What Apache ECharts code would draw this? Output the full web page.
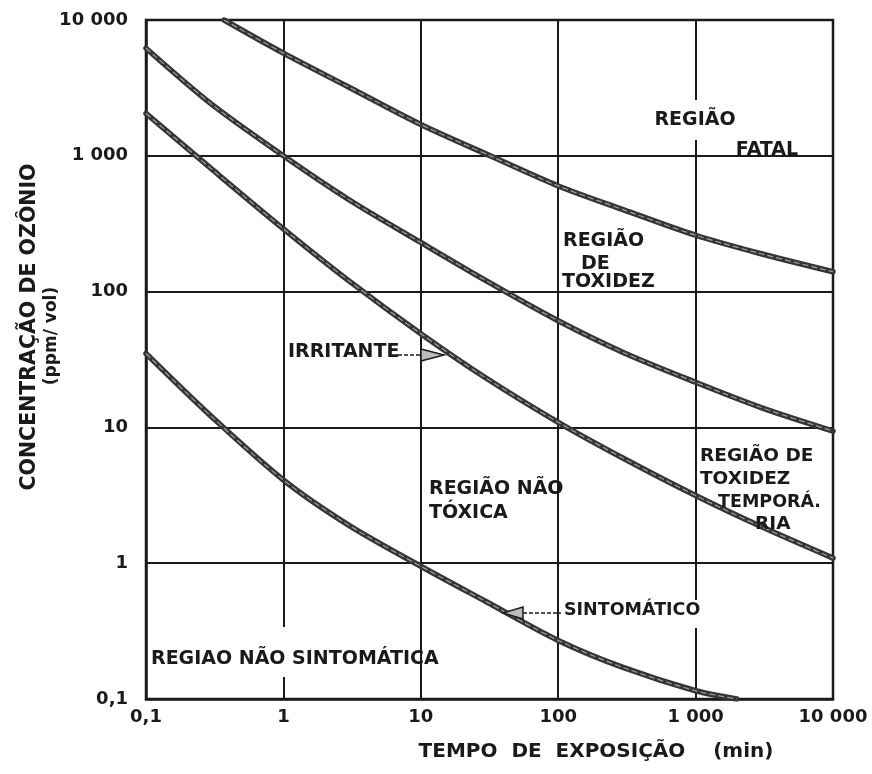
<!DOCTYPE html>
<html>
<head>
<meta charset="utf-8">
<script src="https://cdn.jsdelivr.net/npm/echarts@6/dist/echarts.min.js"></script>
<style>
html,body{margin:0;padding:0;background:#fff;}
#chart{width:872px;height:774px;}
</style>
</head>
<body>
<div id="chart"></div>
<script>
// ---- data ----
const xTickValues = [0.1, 1, 10, 100, 1000, 10000];
const xTickLabels = ['0,1', '1', '10', '100', '1 000', '10 000'];
const yTickValues = [0.1, 1, 10, 100, 1000, 10000];
const yTickLabels = ['0,1', '1', '10', '100', '1 000', '10 000'];

const xAxisTitle = 'TEMPO  DE  EXPOSIÇÃO    (min)';
const yAxisTitle = 'CONCENTRAÇÃO DE OZÔNIO';
const yAxisUnit = '(ppm/ vol)';

// limit curves: [time (min), concentration (ppm/vol)]
const fatalCurve = [[0.37, 10000], [1, 5700], [3, 3200], [10, 1700], [32, 1000], [100, 600], [300, 400], [1000, 260], [3000, 190], [10000, 140]];
const toxidezCurve = [[0.1, 6200], [0.3, 2400], [1, 1000], [3, 475], [10, 230], [30, 120], [100, 61], [300, 35.5], [1000, 21.5], [3000, 14], [10000, 9.4]];
const irritanteCurve = [[0.1, 2050], [0.3, 800], [1, 290], [3, 120], [10, 49], [30, 23], [100, 10.9], [300, 5.9], [1000, 3.15], [3000, 1.86], [10000, 1.09]];
const sintomaticoCurve = [[0.1, 35], [0.3, 12], [1, 4.1], [3, 1.9], [10, 0.95], [30, 0.52], [100, 0.27], [300, 0.17], [1000, 0.115], [2000, 0.1]];

const curves = [fatalCurve, toxidezCurve, irritanteCurve, sintomaticoCurve];

// ---- chart ----
const FONT = 'DejaVu Sans';
const INK = '#1a1a1a';

function tickFmt(values, labels) {
  return function (v) {
    for (let i = 0; i < values.length; i++) {
      if (Math.abs(Math.log10(v) - Math.log10(values[i])) < 1e-6) return labels[i];
    }
    return '';
  };
}

const series = [];
curves.forEach(function (c) {
  series.push({
    type: 'line', data: c, smooth: 0.3, symbol: 'none', silent: true, z: 5,
    lineStyle: { color: '#353535', width: 5.5, cap: 'round' }
  });
  series.push({
    type: 'line', data: c, smooth: 0.3, symbol: 'none', silent: true, z: 6,
    lineStyle: { color: '#a0a0a0', width: 1.2, type: [6, 3] }
  });
});

const chart = echarts.init(document.getElementById('chart'), null, { renderer: 'canvas' });

function txt(text, x, y, opts) {
  opts = opts || {};
  return {
    type: 'text', x: x, y: y, z: 50, silent: true,
    rotation: opts.rotation || 0,
    style: {
      text: text, fill: INK, fontFamily: FONT, fontWeight: 'bold', fontSize: opts.size || 19,
      align: opts.align || 'left', verticalAlign: 'middle'
    }
  };
}
function gap(x, y1, y2) {
  return { type: 'rect', z: 10, silent: true, shape: { x: x - 3, y: y1, width: 6, height: y2 - y1 }, style: { fill: '#fff' } };
}

const graphics = [
  // gaps in the grid behind some annotations
  gap(284, 627, 677),
  gap(696, 100, 140),
  gap(696, 600, 628),
  // axis titles
  txt(yAxisTitle, 30, 327, { align: 'center', rotation: Math.PI / 2, size: 20.5 }),
  txt(yAxisUnit, 52, 336, { align: 'center', rotation: Math.PI / 2, size: 17 }),
  txt(xAxisTitle, 596, 752, { align: 'center', size: 20 }),
  // region annotations
  txt('REGIÃO', 695, 120, { align: 'center' }),
  txt('FATAL', 767, 150, { align: 'center' }),
  txt('REGIÃO', 563, 241),
  txt('DE', 581, 264),
  txt('TOXIDEZ', 562, 282),
  txt('IRRITANTE', 288, 352),
  txt('REGIÃO NÃO', 429, 489),
  txt('TÓXICA', 429, 513),
  txt('REGIÃO DE', 700, 456, { size: 18.5 }),
  txt('TOXIDEZ', 700, 479, { size: 18.5 }),
  txt('TEMPORÁ.', 718, 502, { size: 17.5 }),
  txt('RIA', 755, 524, { size: 18.5 }),
  txt('SINTOMÁTICO', 564, 610, { size: 17.5 }),
  txt('REGIAO NÃO SINTOMÁTICA', 151, 659),
  // arrows
  { type: 'line', z: 40, silent: true, shape: { x1: 398, y1: 355, x2: 421, y2: 355 }, style: { stroke: INK, lineWidth: 1.5, lineDash: [4, 2] } },
  { type: 'polygon', z: 40, silent: true, shape: { points: [[421, 349], [421, 361], [444, 355]] }, style: { fill: '#bbb', stroke: INK, lineWidth: 1.5 } },
  { type: 'line', z: 40, silent: true, shape: { x1: 523, y1: 613, x2: 561, y2: 613 }, style: { stroke: INK, lineWidth: 1.5, lineDash: [4, 2] } },
  { type: 'polygon', z: 40, silent: true, shape: { points: [[523, 607], [523, 619], [503, 613]] }, style: { fill: '#bbb', stroke: INK, lineWidth: 1.5 } }
];

chart.setOption({
  backgroundColor: '#ffffff',
  animation: false,
  grid: {
    left: 146, right: 39, top: 20, bottom: 75,
    containLabel: false, outerBoundsMode: 'none',
    show: true, borderColor: INK, borderWidth: 2.5, backgroundColor: 'transparent'
  },
  xAxis: {
    type: 'log', logBase: 10, min: 0.1, max: 10000,
    axisLine: { show: true, lineStyle: { color: INK, width: 2.5 } },
    axisTick: { show: false },
    splitLine: { show: true, lineStyle: { color: INK, width: 2 } },
    minorSplitLine: { show: false },
    axisLabel: {
      formatter: tickFmt(xTickValues, xTickLabels),
      color: INK, fontFamily: FONT, fontWeight: 'bold', fontSize: 18, margin: 9
    }
  },
  yAxis: {
    type: 'log', logBase: 10, min: 0.1, max: 10000,
    axisLine: { show: true, lineStyle: { color: INK, width: 2.5 } },
    axisTick: { show: false },
    splitLine: { show: true, lineStyle: { color: INK, width: 2 } },
    axisLabel: {
      formatter: tickFmt(yTickValues, yTickLabels),
      color: INK, fontFamily: FONT, fontWeight: 'bold', fontSize: 18, margin: 18
    }
  },
  series: series,
  graphic: graphics
});
</script>
</body>
</html>
